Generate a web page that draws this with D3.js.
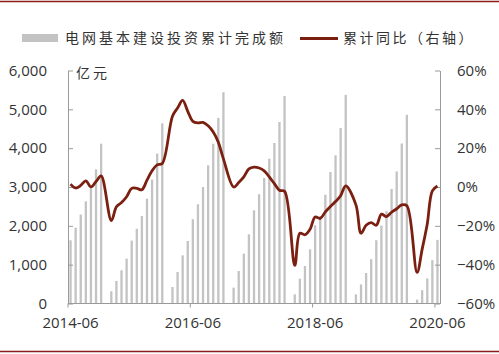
<!DOCTYPE html>
<html>
<head>
<meta charset="utf-8">
<script src="https://cdn.jsdelivr.net/npm/d3@7"></script>
<style>
  body { margin: 0; background: #fff; }
  svg text { font-family: "Open Sans", "Noto Sans CJK SC", sans-serif; fill: #333; }
  .cjk { font-family: "Noto Sans CJK SC", sans-serif; }
</style>
</head>
<body>
<svg id="chart" width="499" height="354"></svg>
<script>
// data months (no January: Jan-Feb reported together)
const months = [
  "2014-06","2014-07","2014-08","2014-09","2014-10","2014-11","2014-12",
  "2015-02","2015-03","2015-04","2015-05","2015-06","2015-07","2015-08","2015-09","2015-10","2015-11","2015-12",
  "2016-02","2016-03","2016-04","2016-05","2016-06","2016-07","2016-08","2016-09","2016-10","2016-11","2016-12",
  "2017-02","2017-03","2017-04","2017-05","2017-06","2017-07","2017-08","2017-09","2017-10","2017-11","2017-12",
  "2018-02","2018-03","2018-04","2018-05","2018-06","2018-07","2018-08","2018-09","2018-10","2018-11","2018-12",
  "2019-02","2019-03","2019-04","2019-05","2019-06","2019-07","2019-08","2019-09","2019-10","2019-11","2019-12",
  "2020-02","2020-03","2020-04","2020-05","2020-06"
];
// 电网基本建设投资累计完成额 (亿元)
const investment = [
  1627, 1950, 2290, 2630, 2960, 3455, 4115,
  314, 580, 855, 1155, 1620, 1925, 2253, 2700, 3190, 3860, 4640,
  425, 810, 1240, 1610, 2170, 2555, 3000, 3560, 4115, 4780, 5440,
  408, 837, 1283, 1782, 2400, 2812, 3232, 3730, 4133, 4674, 5344,
  236, 640, 966, 1395, 2013, 2250, 2800, 3385, 3816, 4520, 5373,
  236, 490, 785, 1140, 1630, 2008, 2375, 2948, 3400, 4120, 4858,
  100, 344, 645, 1116, 1639
];
// 累计同比 (%)
const yoy = [
  1.5, -0.5, 0.8, 3.2, 0, 2.8, 5.7,
  -17.3, -10.2, -8, -5, -0.7, -0.7, -1.4, 3.5, 8.4, 11.4, 12.1,
  36.4, 40.7, 44.6, 39, 33.8, 33, 33.3, 31.5, 28.3, 23, 14.5,
  0, 2.3, 5.2, 9.3, 10.2, 9.8, 8.3, 5.2, 1.7, -1.7, -2.2,
  -40.4, -23.8, -24.6, -21.8, -15.4, -16.2, -12.8, -10, -7.5, -4.5, 0.6,
  -9.2, -23.8, -19.7, -18.3, -19.7, -14, -15.2, -13, -11.2, -9.2, -9.6,
  -44, -32, -19, -2, 0.5
];

const xTicks = ["2014-06", "2016-06", "2018-06", "2020-06"];
const leftTicks = [0, 1000, 2000, 3000, 4000, 5000, 6000];
const rightTicks = [-0.6, -0.4, -0.2, 0, 0.2, 0.4, 0.6];

const barName = "电网基本建设投资累计完成额";
const lineName = "累计同比（右轴）";
const unitLabel = "亿元";

const plot = {left: 68, right: 440, top: 70.5, bottom: 303.5};
const red = "#7b1f10";
const axisGray = "#9a9a9a";

const svg = d3.select("#chart");
const fmtMonth = d3.timeFormat("%Y-%m");
const parseMonth = d3.timeParse("%Y-%m");

// every month on the date axis, including the empty Januaries
const allMonths = d3.timeMonth.range(parseMonth("2014-06"), d3.timeMonth.offset(parseMonth("2020-06"), 1)).map(fmtMonth);

const x = d3.scaleBand().domain(allMonths).range([plot.left, plot.right]).padding(0);
const yL = d3.scaleLinear().domain([0, 6000]).range([plot.bottom, plot.top]);
const yR = d3.scaleLinear().domain([-0.6, 0.6]).range([plot.bottom, plot.top]);

const data = months.map((m, i) => ({month: m, inv: investment[i], yoy: yoy[i] / 100}));

// frame lines top and bottom
svg.append("line").attr("x1", 0).attr("x2", 499).attr("y1", 1.5).attr("y2", 1.5)
  .attr("stroke", "#8b1c1c").attr("stroke-width", 1.6);
svg.append("line").attr("x1", 0).attr("x2", 499).attr("y1", 351.5).attr("y2", 351.5)
  .attr("stroke", "#8b1c1c").attr("stroke-width", 1.6);

// bars
const bw = 2.3;
svg.append("g").selectAll("rect").data(data).join("rect")
  .attr("x", d => x(d.month) + x.bandwidth() / 2 - bw / 2)
  .attr("y", d => yL(d.inv))
  .attr("width", bw)
  .attr("height", d => yL(0) - yL(d.inv))
  .attr("fill", "#c3c3c3");

// left axis
const leftAxis = svg.append("g")
  .attr("transform", "translate(" + plot.left + ",0)")
  .call(d3.axisLeft(yL).tickValues(leftTicks).tickSize(-5).tickSizeOuter(0).tickPadding(21).tickFormat(d3.format(",")));
leftAxis.selectAll("text").style("font-size", "15px");

// right axis
const rightAxis = svg.append("g")
  .attr("transform", "translate(" + plot.right + ",0)")
  .call(d3.axisRight(yR).tickValues(rightTicks).tickSize(-5).tickSizeOuter(0).tickPadding(17).tickFormat(d3.format(".0%")));
rightAxis.selectAll("text").style("font-size", "15px");

[leftAxis, rightAxis].forEach(g => {
  g.select(".domain").attr("stroke", axisGray);
  g.selectAll(".tick line").attr("stroke", axisGray);
});

// bottom axis: labels in the band centres, tick marks at band edges
const bottomAxis = svg.append("g")
  .attr("transform", "translate(0," + plot.bottom + ")")
  .call(d3.axisBottom(x).tickValues(xTicks).tickSize(0).tickPadding(14));
bottomAxis.select(".domain").remove();
bottomAxis.selectAll("text").style("font-size", "15px");
svg.append("line")
  .attr("x1", plot.left).attr("x2", plot.right)
  .attr("y1", plot.bottom).attr("y2", plot.bottom)
  .attr("stroke", axisGray);
svg.append("g").selectAll("line").data(xTicks).join("line")
  .attr("x1", d => x(d)).attr("x2", d => x(d))
  .attr("y1", plot.bottom).attr("y2", plot.bottom + 4)
  .attr("stroke", axisGray);

// unit label
svg.append("text").attr("class", "cjk")
  .attr("x", 76).attr("y", 78)
  .style("font-size", "14px").style("letter-spacing", "3px")
  .text(unitLabel);

// line
const line = d3.line()
  .x(d => x(d.month) + x.bandwidth() / 2)
  .y(d => yR(d.yoy))
  .curve(d3.curveCatmullRom);

svg.append("path")
  .datum(data)
  .attr("d", line)
  .attr("fill", "none")
  .attr("stroke", red)
  .attr("stroke-width", 2.8)
  .attr("stroke-linejoin", "round");

// legend
const legend = svg.append("g");
legend.append("rect").attr("x", 22).attr("y", 34).attr("width", 36).attr("height", 8).attr("fill", "#c3c3c3");
legend.append("text").attr("class", "cjk")
  .attr("x", 65).attr("y", 43)
  .style("font-size", "14px").style("letter-spacing", "3px")
  .text(barName);
legend.append("line").attr("x1", 300).attr("x2", 338).attr("y1", 38.5).attr("y2", 38.5)
  .attr("stroke", red).attr("stroke-width", 3);
legend.append("text").attr("class", "cjk")
  .attr("x", 343).attr("y", 43)
  .style("font-size", "14px").style("letter-spacing", "2.5px")
  .text(lineName);
</script>
</body>
</html>
